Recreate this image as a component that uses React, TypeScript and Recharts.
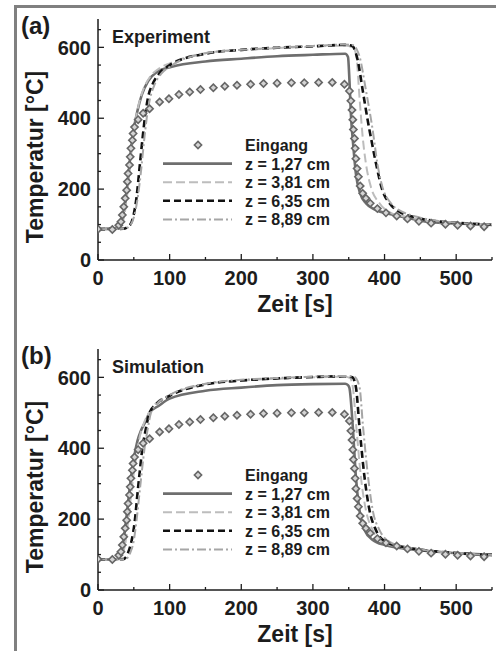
import { LineChart, Line, XAxis, YAxis } from "recharts";

// time [s] / temperature [°C] pairs
const eingang = [
  [0, 87], [20, 86], [29, 98], [32, 108], [34, 127], [36, 150], [38, 174], [40, 197],
  [41, 221], [42, 244], [44, 268], [45, 291], [46, 315], [48, 338], [49, 357], [51, 375],
  [56, 396], [63, 414], [72, 427], [86, 446], [99, 455], [113, 467], [128, 474], [143, 481],
  [161, 486], [177, 490], [194, 493], [213, 496], [231, 498], [250, 499], [270, 500],
  [288, 500], [308, 501], [327, 501], [344, 496], [351, 477], [353, 449], [354.6, 423],
  [355.7, 396], [356.5, 368], [358, 343], [359, 315], [360, 286], [361.7, 258], [363.5, 235],
  [366, 209], [369.5, 188], [374, 174], [380, 160], [390, 145], [402, 133], [417, 124],
  [432, 116], [448, 109], [465, 104], [485, 101], [502, 98], [520, 96], [539, 94],
];

const expZ127 = [
  [0, 87], [28, 90], [33, 110], [38, 160], [42, 230], [46, 310], [50, 370], [55, 420],
  [61, 465], [70, 505], [82, 530], [103, 545], [150, 560], [200, 568], [250, 575],
  [300, 579], [345, 582], [349, 573], [351, 507], [353, 413], [356.5, 319], [360, 244],
  [366, 188], [374, 160], [388, 141], [407, 130], [430, 120], [458, 108], [500, 103], [550, 99],
];
const expZ381 = [
  [0, 87], [30, 90], [35, 110], [40, 170], [44, 250], [48, 330], [52, 390], [57, 440],
  [63, 480], [72, 515], [85, 540], [100, 555], [150, 584], [200, 592], [250, 598],
  [300, 602], [345, 605], [355, 600], [358, 594], [361, 570], [365, 460], [369.5, 347],
  [374, 272], [381, 206], [393, 160], [411, 131], [430, 122], [460, 110], [500, 104], [550, 100],
];
const expZ635 = [
  [0, 87], [35, 88], [45, 100], [50, 130], [54, 180], [58, 260], [62, 340], [66, 410],
  [70, 460], [76, 495], [85, 525], [100, 550], [150, 582], [200, 593], [250, 599],
  [300, 603], [345, 607], [355, 604], [359, 590], [362.6, 563], [369.5, 479], [376.5, 394],
  [383.5, 319], [390, 254], [397, 197], [407, 160], [421, 136], [440, 122], [470, 110],
  [500, 105], [550, 100],
];
const expZ889 = [
  [0, 87], [37, 88], [45, 98], [50, 120], [55, 170], [60, 250], [64, 330], [68, 400],
  [72, 450], [78, 490], [88, 525], [100, 545], [150, 583], [200, 593], [250, 599],
  [300, 604], [345, 608], [357, 606], [361, 595], [365, 575], [374, 479], [383.5, 366],
  [390, 272], [397, 206], [409, 160], [425, 136], [445, 122], [475, 110], [510, 104], [550, 101],
];

const simZ127 = [
  [0, 86], [25, 86], [30, 95], [35, 130], [40, 210], [45, 300], [50, 370], [55, 420],
  [60, 450], [65, 470], [72, 500], [85, 520], [100, 540], [150, 562], [200, 571],
  [250, 578], [300, 581], [345, 582], [349, 578], [351, 570], [355.7, 460], [360, 319],
  [365, 225], [372, 169], [383.5, 141], [400, 127], [450, 112], [500, 104], [550, 99],
];
const simZ381 = [
  [0, 86], [28, 87], [32, 92], [38, 130], [43, 210], [48, 300], [53, 370], [58, 430],
  [63, 465], [71, 500], [80, 525], [100, 550], [150, 581], [200, 591], [250, 596],
  [300, 600], [345, 602], [352, 598], [355.7, 573], [360.6, 460], [367, 319], [374, 225],
  [383.5, 169], [397, 136], [420, 122], [450, 113], [500, 104], [550, 99],
];
const simZ635 = [
  [0, 86], [35, 87], [42, 105], [47, 140], [51.5, 197], [55, 270], [58.5, 338], [62, 400],
  [65.5, 441], [72, 500], [80, 522], [100, 548], [150, 580], [200, 591], [250, 597],
  [300, 601], [345, 603], [355, 600], [360, 573], [365, 460], [372, 319], [379, 225],
  [388, 169], [402, 136], [425, 122], [450, 114], [500, 104], [550, 99],
];
const simZ889 = [
  [0, 86], [38, 87], [45, 105], [50, 140], [54, 200], [58, 275], [61.5, 340], [65, 400],
  [69, 450], [74, 500], [82, 524], [100, 550], [150, 582], [200, 593], [250, 598],
  [300, 602], [345, 604], [358, 601], [365, 573], [370, 460], [377, 319], [383.5, 225],
  [393, 169], [407, 136], [428, 122], [455, 113], [500, 104], [550, 99],
];

const xTicks = [0, 50, 100, 150, 200, 250, 300, 350, 400, 450, 500, 550];
const xLabels = [0, 100, 200, 300, 400, 500];
const yTicks = [0, 50, 100, 150, 200, 250, 300, 350, 400, 450, 500, 550, 600, 650];
const yLabels = [0, 200, 400, 600];

const legendNames = ["Eingang", "z = 1,27 cm", "z = 3,81 cm", "z = 6,35 cm", "z = 8,89 cm"];

const FONT = "'Liberation Sans', Arial, Helvetica, sans-serif";
const INK = "#1c1c1c";

const lineStyles = [
  { stroke: "#6e6e6e", width: 2.6, dash: undefined },
  { stroke: "#bdbdbd", width: 2, dash: "9 4" },
  { stroke: "#111111", width: 2.6, dash: "7 4" },
  { stroke: "#a6a6a6", width: 2, dash: "9 3 2 3" },
];

const toRows = (pts: number[][]) => pts.map(([t, v]) => ({ t, v }));

const Diamond = ({ cx, cy }: any) => {
  if (cx == null || cy == null) return null;
  const r = 3.6;
  return (
    <path
      d={`M${cx},${cy - r}L${cx + r},${cy}L${cx},${cy + r}L${cx - r},${cy}Z`}
      fill="#d4d4d4"
      stroke="#666"
      strokeWidth={1.6}
    />
  );
};

const YTick = ({ x, y, payload }: any) => {
  const major = yLabels.includes(Number(payload.value));
  return (
    <g>
      <line x1={x} x2={x + (major ? 6 : 3)} y1={y} y2={y} stroke={INK} strokeWidth={1.3} />
      {major && (
        <text x={x - 7} y={y} dy="0.36em" textAnchor="end" fontSize={20} fontWeight="bold" fontFamily={FONT} fill={INK}>
          {payload.value}
        </text>
      )}
    </g>
  );
};

const XTick = ({ x, y, payload }: any) => {
  const major = xLabels.includes(Number(payload.value));
  return (
    <g>
      <line x1={x} x2={x} y1={y} y2={y - (major ? 6 : 3)} stroke={INK} strokeWidth={1.3} />
      {major && (
        <text x={x} y={y + 25} textAnchor="middle" fontSize={20} fontWeight="bold" fontFamily={FONT} fill={INK}>
          {payload.value}
        </text>
      )}
    </g>
  );
};

function Panel({ top, tag, title, series }: { top: number; tag: string; title: string; series: number[][][] }) {
  return (
    <div style={{ position: "absolute", left: 0, top, width: 496, height: 330 }}>
      <LineChart width={496} height={330} margin={{ top: 19, right: 4, left: 0, bottom: 0 }}>
        <XAxis
          dataKey="t"
          type="number"
          domain={[0, 550]}
          ticks={xTicks}
          interval={0}
          tick={<XTick />}
          tickLine={false}
          tickSize={0}
          tickMargin={0}
          height={70}
          axisLine={{ stroke: INK, strokeWidth: 1.5 }}
          allowDataOverflow
        />
        <XAxis xAxisId="top" orientation="top" type="number" domain={[0, 550]} tick={false} tickLine={false} height={0} axisLine={{ stroke: INK, strokeWidth: 1.5 }} />
        <YAxis
          type="number"
          domain={[0, 680]}
          ticks={yTicks}
          interval={0}
          tick={<YTick />}
          tickLine={false}
          tickSize={0}
          tickMargin={0}
          width={98}
          axisLine={{ stroke: INK, strokeWidth: 1.5 }}
          allowDataOverflow
        />
        <YAxis yAxisId="right" orientation="right" type="number" domain={[0, 680]} tick={false} tickLine={false} width={0} axisLine={{ stroke: INK, strokeWidth: 1.5 }} />
        <Line
          data={toRows(eingang)}
          dataKey="v"
          stroke="none"
          dot={<Diamond />}
          activeDot={false}
          isAnimationActive={false}
        />
        {series.map((pts, i) => (
          <Line
            key={i}
            data={toRows(pts)}
            dataKey="v"
            type="monotone"
            stroke={lineStyles[i].stroke}
            strokeWidth={lineStyles[i].width}
            strokeDasharray={lineStyles[i].dash}
            dot={false}
            activeDot={false}
            isAnimationActive={false}
          />
        ))}
      </LineChart>
      <svg width={496} height={330} style={{ position: "absolute", left: 0, top: 0, pointerEvents: "none" }} fontFamily={FONT} fontWeight="bold" fill={INK}>
        <text x={21} y={34} fontSize={24}>{tag}</text>
        <text x={112} y={43} fontSize={18}>{title}</text>
        <text transform="translate(43,157) rotate(-90)" textAnchor="middle" fontSize={23}>Temperatur [°C]</text>
        <text x={295} y={312} textAnchor="middle" fontSize={23}>Zeit [s]</text>
        {legendNames.map((name, i) => {
          const cy = 145 + i * 18.6;
          return (
            <g key={name}>
              {i === 0 ? (
                <Diamond cx={198} cy={cy} />
              ) : (
                <line
                  x1={163}
                  x2={232}
                  y1={cy}
                  y2={cy}
                  stroke={lineStyles[i - 1].stroke}
                  strokeWidth={lineStyles[i - 1].width}
                  strokeDasharray={lineStyles[i - 1].dash}
                />
              )}
              <text x={245} y={cy + 6} fontSize={16}>{name}</text>
            </g>
          );
        })}
      </svg>
    </div>
  );
}

export default function App() {
  return (
    <div style={{ position: "absolute", left: 0, top: 0, width: 496, height: 651, background: "#fff", overflow: "hidden" }}>
      <div style={{ position: "absolute", left: 14, top: 5, width: 3, height: 646, background: "#808080" }} />
      <div style={{ position: "absolute", left: 14, top: 5, width: 482, height: 2.5, background: "#808080" }} />
      <Panel top={0} tag="(a)" title="Experiment" series={[expZ127, expZ381, expZ635, expZ889]} />
      <Panel top={330} tag="(b)" title="Simulation" series={[simZ127, simZ381, simZ635, simZ889]} />
    </div>
  );
}
